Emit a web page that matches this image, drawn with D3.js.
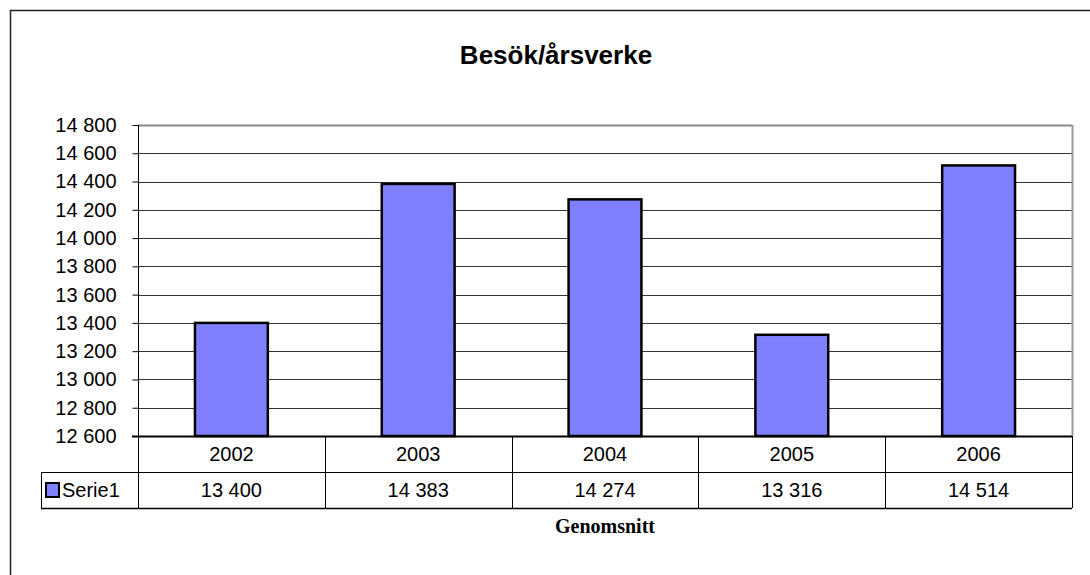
<!DOCTYPE html>
<html>
<head>
<meta charset="utf-8">
<script src="https://cdn.jsdelivr.net/npm/d3@7"></script>
<style>
  body { margin: 0; background: #fff; }
  svg text { font-family: "Liberation Sans", Arial, sans-serif; }
</style>
</head>
<body>
<div id="chart"></div>
<script>
// data
var years = ["2002", "2003", "2004", "2005", "2006"];
var serie1 = [13400, 14383, 14274, 13316, 14514];
var seriesName = "Serie1";
var yTicks = [12600, 12800, 13000, 13200, 13400, 13600, 13800, 14000, 14200, 14400, 14600, 14800];

var w = 1090, h = 575;
// plot area (careful: "top" is taken by window.top)
var plotLeft = 138, plotRight = 1072, plotTop = 125, plotBottom = 436;
var rowH = 36;

var fmt = function(v) { return d3.format(",")(v).replace(/,/g, " "); };

var svg = d3.select("#chart").append("svg")
  .attr("width", w)
  .attr("height", h);

// outer frame
svg.append("rect")
  .attr("x", 10.5).attr("y", 10.5)
  .attr("width", 1090).attr("height", 600)
  .attr("fill", "none").attr("stroke", "#222").attr("stroke-width", 1.5);

var x = d3.scaleBand()
  .domain(years)
  .range([plotLeft, plotRight])
  .paddingInner(0.61)
  .paddingOuter(0.305);

var xCell = d3.scaleBand().domain(years).range([plotLeft, plotRight]);

var y = d3.scaleLinear()
  .domain([12600, 14800])
  .range([plotBottom, plotTop]);

// gridlines
svg.append("g")
  .selectAll("line")
  .data(yTicks.slice(1))
  .enter().append("line")
  .attr("x1", plotLeft).attr("x2", plotRight)
  .attr("y1", function(d) { return Math.round(y(d)) + 0.5; })
  .attr("y2", function(d) { return Math.round(y(d)) + 0.5; })
  .attr("stroke", function(d) { return d === 14800 ? "#888" : "#333"; })
  .attr("stroke-width", function(d) { return d === 14800 ? 2 : 1; });

// right border of plot area
svg.append("line")
  .attr("x1", plotRight + 0.5).attr("x2", plotRight + 0.5)
  .attr("y1", plotTop).attr("y2", plotBottom)
  .attr("stroke", "#999").attr("stroke-width", 2);

// bars
svg.append("g")
  .selectAll("rect")
  .data(serie1)
  .enter().append("rect")
  .attr("x", function(d, i) { return x(years[i]); })
  .attr("y", function(d) { return y(d); })
  .attr("width", x.bandwidth())
  .attr("height", function(d) { return plotBottom - y(d); })
  .attr("fill", "#8080ff")
  .attr("stroke", "#000")
  .attr("stroke-width", 2.5);

// y axis
var yAxis = d3.axisLeft(y)
  .tickValues(yTicks)
  .tickSize(6)
  .tickFormat(fmt);

var gy = svg.append("g")
  .attr("transform", "translate(" + (plotLeft + 0.5) + ",0)")
  .call(yAxis);
gy.select(".domain").attr("stroke", "#000").attr("d", "M0," + plotTop + "V" + (plotBottom + 2 * rowH));
gy.selectAll(".tick line").attr("stroke", "#000");
gy.selectAll(".tick text")
  .attr("x", -22)
  .attr("font-size", 20)
  .attr("fill", "#000")
  .attr("font-family", "Liberation Sans, Arial, sans-serif");

// x axis line
svg.append("line")
  .attr("x1", plotLeft - 6).attr("x2", plotRight)
  .attr("y1", plotBottom + 0.5).attr("y2", plotBottom + 0.5)
  .attr("stroke", "#000").attr("stroke-width", 2);

// data table
var table = svg.append("g");
table.append("line")
  .attr("x1", 41).attr("x2", plotRight)
  .attr("y1", plotBottom + rowH + 0.5).attr("y2", plotBottom + rowH + 0.5)
  .attr("stroke", "#000");
table.append("line")
  .attr("x1", 41).attr("x2", plotRight)
  .attr("y1", plotBottom + 2 * rowH + 0.5).attr("y2", plotBottom + 2 * rowH + 0.5)
  .attr("stroke", "#000").attr("stroke-width", 1.5);
table.append("line")
  .attr("x1", 41.5).attr("x2", 41.5)
  .attr("y1", plotBottom + rowH).attr("y2", plotBottom + 2 * rowH)
  .attr("stroke", "#000");
table.append("line")
  .attr("x1", plotRight + 0.5).attr("x2", plotRight + 0.5)
  .attr("y1", plotBottom).attr("y2", plotBottom + 2 * rowH)
  .attr("stroke", "#000");

table.selectAll("line.col")
  .data(years.slice(1))
  .enter().append("line")
  .attr("class", "col")
  .attr("x1", function(d) { return Math.round(xCell(d)) + 0.5; })
  .attr("x2", function(d) { return Math.round(xCell(d)) + 0.5; })
  .attr("y1", plotBottom).attr("y2", plotBottom + 2 * rowH)
  .attr("stroke", "#000");

table.selectAll("text.year")
  .data(years)
  .enter().append("text")
  .attr("class", "year")
  .attr("x", function(d) { return xCell(d) + xCell.bandwidth() / 2; })
  .attr("y", plotBottom + rowH / 2 + 7)
  .attr("text-anchor", "middle")
  .attr("font-size", 20)
  .text(function(d) { return d; });

table.selectAll("text.val")
  .data(serie1)
  .enter().append("text")
  .attr("class", "val")
  .attr("x", function(d, i) { return xCell(years[i]) + xCell.bandwidth() / 2; })
  .attr("y", plotBottom + rowH * 1.5 + 7)
  .attr("text-anchor", "middle")
  .attr("font-size", 20)
  .text(function(d) { return fmt(d); });

// legend key
table.append("rect")
  .attr("x", 46).attr("y", plotBottom + rowH + 11)
  .attr("width", 13).attr("height", 14)
  .attr("fill", "#8080ff")
  .attr("stroke", "#000").attr("stroke-width", 2);
table.append("text")
  .attr("x", 62).attr("y", plotBottom + rowH * 1.5 + 7)
  .attr("font-size", 20)
  .text(seriesName);

// title
svg.append("text")
  .attr("x", 556).attr("y", 64)
  .attr("text-anchor", "middle")
  .attr("font-size", 26)
  .attr("font-weight", "bold")
  .text("Besök/årsverke");

// x axis title
svg.append("text")
  .attr("x", 605).attr("y", 533)
  .attr("text-anchor", "middle")
  .attr("font-size", 20)
  .attr("font-weight", "bold")
  .style("font-family", "Liberation Serif, Times New Roman, serif")
  .text("Genomsnitt");
</script>
</body>
</html>
